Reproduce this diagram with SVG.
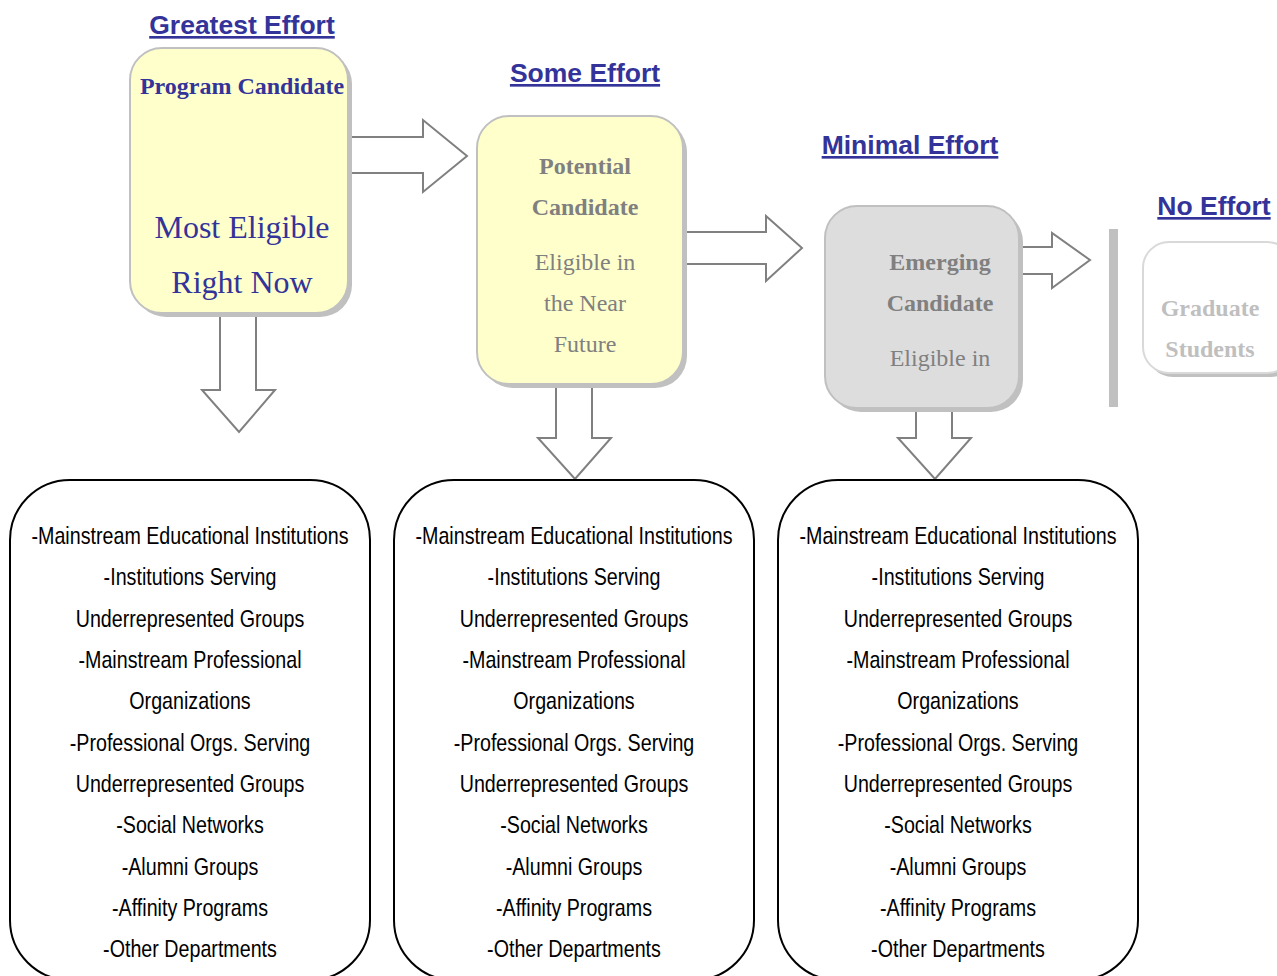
<svg xmlns="http://www.w3.org/2000/svg" width="1277" height="976" viewBox="0 0 1277 976">
<style>
.hdr{font-family:"Liberation Sans",Arial,sans-serif;font-weight:bold;font-size:26.5px;fill:#333399;text-anchor:middle;text-decoration:underline}
.ser{font-family:"Liberation Serif","Times New Roman",serif;text-anchor:middle}
.list{font-family:"Liberation Sans Narrow","Arial Narrow","Liberation Sans",sans-serif;font-size:24px;fill:#000;text-anchor:middle}
.shadow{fill:#c0c0c0}
.arr{fill:#fff;stroke:#808080;stroke-width:2}
.src{fill:#fff;stroke:#000;stroke-width:2}
</style>
<rect width="1277" height="976" fill="#fff"/>

<g id="connectors">
<polygon class="arr" points="330,137 423,137 423,120 467,156 423,192 423,173 330,173"/>
<polygon class="arr" points="670,232 766,232 766,216 802,248 766,281 766,264 670,264"/>
<polygon class="arr" points="1005,247 1052,247 1052,233 1090,260 1052,288 1052,274 1005,274"/>
<polygon class="arr" points="220,300 256,300 256,390 275,390 239,432 202,390 220,390"/>
<polygon class="arr" points="556,370 592,370 592,438 611,438 575,479 538,438 556,438"/>
<polygon class="arr" points="916,395 952,395 952,438 971,438 935,479 898,438 916,438"/>
</g>

<g id="hdr-greatest"><text class="hdr" x="242" y="34">Greatest Effort</text></g>
<g id="hdr-some"><text class="hdr" x="585" y="82">Some Effort</text></g>
<g id="hdr-minimal"><text class="hdr" x="910" y="154">Minimal Effort</text></g>
<g id="hdr-none"><text class="hdr" x="1214" y="215">No Effort</text></g>

<g id="program-candidate">
<rect class="shadow" x="134" y="52" width="218" height="265" rx="32"/>
<rect x="130" y="48" width="218" height="265" rx="32" fill="#ffffcc" stroke="#c0c0c0" stroke-width="2"/>
<text class="ser" x="242" y="94" font-size="24" font-weight="bold" fill="#333399">Program Candidate</text>
<text class="ser" x="242" y="238" font-size="32" fill="#333399">Most Eligible</text>
<text class="ser" x="242" y="293" font-size="32" fill="#333399">Right Now</text>
</g>

<g id="potential-candidate">
<rect class="shadow" x="481" y="120" width="206" height="268" rx="32"/>
<rect x="477" y="116" width="206" height="268" rx="32" fill="#ffffcc" stroke="#c0c0c0" stroke-width="2"/>
<text class="ser" x="585" y="174" font-size="24" font-weight="bold" fill="#808080">Potential</text>
<text class="ser" x="585" y="215" font-size="24" font-weight="bold" fill="#808080">Candidate</text>
<text class="ser" x="585" y="270" font-size="24" fill="#808080">Eligible in</text>
<text class="ser" x="585" y="311" font-size="24" fill="#808080">the Near</text>
<text class="ser" x="585" y="352" font-size="24" fill="#808080">Future</text>
</g>

<g id="emerging-candidate">
<rect class="shadow" x="829" y="210" width="194" height="202" rx="32"/>
<rect x="825" y="206" width="194" height="202" rx="32" fill="#dddddd" stroke="#c0c0c0" stroke-width="2"/>
<text class="ser" x="940" y="270" font-size="24" font-weight="bold" fill="#808080">Emerging</text>
<text class="ser" x="940" y="311" font-size="24" font-weight="bold" fill="#808080">Candidate</text>
<text class="ser" x="940" y="366" font-size="24" fill="#808080">Eligible in</text>
</g>

<g id="divider"><rect x="1109" y="229" width="9" height="178" fill="#c0c0c0"/></g>

<g id="graduate-students">
<rect class="shadow" x="1147" y="246" width="150" height="131" rx="26"/>
<rect x="1143" y="242" width="150" height="131" rx="26" fill="#fff" stroke="#d9d9d9" stroke-width="2"/>
<text class="ser" x="1210" y="316" font-size="24" font-weight="bold" fill="#bfbfbf">Graduate</text>
<text class="ser" x="1210" y="357" font-size="24" font-weight="bold" fill="#bfbfbf">Students</text>
</g>

<g id="sources-1">
<rect class="src" x="10" y="480" width="360" height="500" rx="60"/>
<text class="list" transform="translate(190,0) scale(0.82,1)"><tspan x="0" y="544">-Mainstream Educational Institutions</tspan><tspan x="0" y="585">-Institutions Serving</tspan><tspan x="0" y="627">Underrepresented Groups</tspan><tspan x="0" y="668">-Mainstream Professional</tspan><tspan x="0" y="709">Organizations</tspan><tspan x="0" y="751">-Professional Orgs. Serving</tspan><tspan x="0" y="792">Underrepresented Groups</tspan><tspan x="0" y="833">-Social Networks</tspan><tspan x="0" y="875">-Alumni Groups</tspan><tspan x="0" y="916">-Affinity Programs</tspan><tspan x="0" y="957">-Other Departments</tspan></text>
</g>

<g id="sources-2">
<rect class="src" x="394" y="480" width="360" height="500" rx="60"/>
<text class="list" transform="translate(574,0) scale(0.82,1)"><tspan x="0" y="544">-Mainstream Educational Institutions</tspan><tspan x="0" y="585">-Institutions Serving</tspan><tspan x="0" y="627">Underrepresented Groups</tspan><tspan x="0" y="668">-Mainstream Professional</tspan><tspan x="0" y="709">Organizations</tspan><tspan x="0" y="751">-Professional Orgs. Serving</tspan><tspan x="0" y="792">Underrepresented Groups</tspan><tspan x="0" y="833">-Social Networks</tspan><tspan x="0" y="875">-Alumni Groups</tspan><tspan x="0" y="916">-Affinity Programs</tspan><tspan x="0" y="957">-Other Departments</tspan></text>
</g>

<g id="sources-3">
<rect class="src" x="778" y="480" width="360" height="500" rx="60"/>
<text class="list" transform="translate(958,0) scale(0.82,1)"><tspan x="0" y="544">-Mainstream Educational Institutions</tspan><tspan x="0" y="585">-Institutions Serving</tspan><tspan x="0" y="627">Underrepresented Groups</tspan><tspan x="0" y="668">-Mainstream Professional</tspan><tspan x="0" y="709">Organizations</tspan><tspan x="0" y="751">-Professional Orgs. Serving</tspan><tspan x="0" y="792">Underrepresented Groups</tspan><tspan x="0" y="833">-Social Networks</tspan><tspan x="0" y="875">-Alumni Groups</tspan><tspan x="0" y="916">-Affinity Programs</tspan><tspan x="0" y="957">-Other Departments</tspan></text>
</g>
</svg>
